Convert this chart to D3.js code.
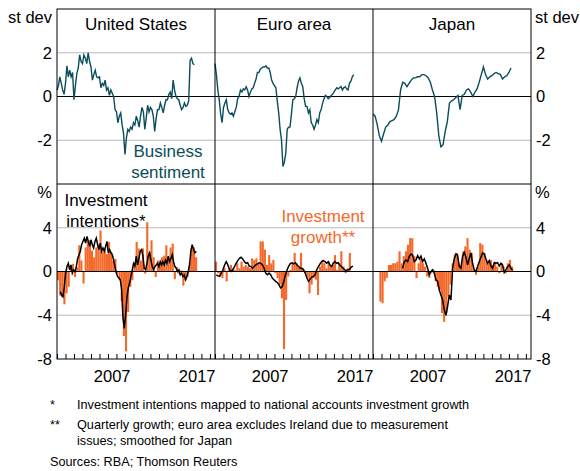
<!DOCTYPE html>
<html>
<head>
<meta charset="utf-8">
<script src="https://cdn.jsdelivr.net/npm/d3@7"></script>
<style>
  body { margin: 0; background: #fff; }
  text { font-family: Arial, "Liberation Sans", sans-serif; fill: #000; }
</style>
</head>
<body>
<svg width="580" height="471"></svg>
<script>
// panels and tick labels
var panelNames = ["United States", "Euro area", "Japan"];
var yearLabels = ["2007", "2017"];
var topTicks = [2, 0, -2];
var bottomTicks = [4, 0, -4, -8];

// business sentiment, st dev (2-monthly for US/euro, quarterly for Japan)
var usSentiment = [0.3, 0.5, 0.9, 0.6, 0.3, 0.1,
  0.6, 1.4, 0.9, 1.2, 0.9, 1.1,
  -0.15, 0.5, 1.05, 1.3, 1.9, 1.6,
  1.5, 1.9, 1.75, 1.5, 2.0, 1.6,
  1.35, 0.75, 1.0, 1.2, 0.9, 0.85,
  0.9, 0.4, 0.6, 0.5, 0.75, 0.3,
  0.4, 0.05, 0.3, 0.15, 0.0, -0.6,
  -0.7, -1.2, -0.9, -0.75, -1.3, -1.7,
  -2.65, -1.9, -1.5, -1.6, -1.4, -1.5,
  -1.2, -1.3, -0.9, -1.1, -1.4, -0.9,
  -0.5, -0.7, -1.5, -1.0, -0.4, -0.7,
  -0.5, -0.6, -0.9, -1.6, -1.0, -0.6,
  -0.6, -0.3, -0.5, -0.75, -0.4, -0.15,
  -0.15, 0.1, 0.2, -0.1, 0.75, 0.3,
  0.0, -0.1, -0.15, -0.4, -0.6, -0.5,
  -0.3, -0.45, -0.4, -0.2, 1.65, 1.75,
  1.5, 1.45];
var euSentiment = [1.5, 1.0, 0.3, -0.15, -0.8, -1.2,
  -0.5, -0.3, -0.15, -0.6, -0.75, -0.8,
  -0.75, -0.9, -0.7, -0.5, -0.1, 0.0,
  0.3, 0.2, 0.35, 0.3, 0.45, 0.3,
  0.0, 0.2, 0.35, 0.4, 0.6, 0.8,
  1.1, 1.1, 1.25, 1.3, 1.35, 1.35,
  1.4, 1.3, 1.3, 1.1, 0.75, 0.6,
  0.5, 0.4, -0.2, -0.75, -1.5, -2.0,
  -3.2, -3.0, -2.6, -1.5, -1.4, -1.4,
  -0.8, -0.15, -0.1, 0.0, 0.4, 0.7,
  0.85, 0.6, 0.45, -0.1, -0.45, -0.45,
  -0.75, -0.6, -1.2, -1.3, -1.5, -1.3,
  -1.05, -1.2, -0.75, -0.6, -0.3, -0.1,
  0.05, 0.0, -0.1, -0.05, 0.05, 0.1,
  0.2, 0.3, 0.4, 0.35, 0.4, 0.45,
  0.3, 0.4, 0.45, 0.35, 0.3, 0.6,
  0.7, 0.9, 1.0];
var jpSentiment = [-0.8, -0.9, -1.3, -1.8,
  -2.05, -1.7, -1.4, -1.3,
  -1.15, -1.1, -1.05, -0.9,
  -0.6, 0.3, 0.65, 0.6,
  0.45, 0.6, 0.75, 0.85,
  0.85, 0.9, 0.9, 1.0,
  1.0, 0.95, 0.85, 0.65,
  0.3, 0.0, -0.75, -1.8,
  -2.3, -2.2, -1.6, -1.15,
  -0.3, -0.2, -0.15, -0.05,
  0.05, -0.6, 0.05, 0.1,
  0.3, 0.35, 0.2, 0.0,
  0.2, 0.35, 0.65, 1.0,
  1.35, 1.0, 0.8, 0.9,
  0.95, 1.05, 1.1, 1.05,
  1.0, 0.8, 0.9, 0.95,
  1.1, 1.3];

// investment growth, quarterly %
var usGrowth = [-0.8, -2.2, -2.35, -3.0,
  -2.0, -1.4, 0.5, 0.7,
  -0.5, 0.4, 2.4, 1.0,
  -1.1, 2.2, 2.85, 2.85,
  1.9, 1.3, 2.2, 2.5,
  3.75, 1.8, 2.1, 1.6,
  2.7, 1.8, 1.0, 1.15,
  -0.2, -0.8, -2.7, -5.9,
  -7.3, -3.7, -1.4, -0.8,
  0.55, 2.7, 2.1, 1.0,
  2.1, -0.2, 4.5, 1.8,
  2.85, 1.3, -0.5, 1.0,
  0.7, 1.3, 1.45, 2.4,
  1.3, 2.2, 2.55, -0.7,
  0.4, -0.2, 0.1, -1.3,
  -0.8, -0.5, 0.85, 2.1,
  2.2, 1.3];
var euGrowth = [0.9, -0.15, -0.3, -0.6,
  0.3, -0.9, 0.15, 0.6,
  0.3, 0.15, 0.75, 0.3,
  0.9, 0.45, 0.6, 0.45,
  0.3, 1.2, 1.05, 1.2,
  0.75, 2.75, 2.75, 2.0,
  0.6, 1.5, 0.75, 1.05,
  -0.15, -0.6, -1.2, -2.45,
  -7.1, -2.6, -0.45, 0.15,
  0.75, 1.7, 0.75, 0.45,
  1.7, 0.3, -0.15, -0.6,
  -2.0, -1.2, -0.6, -0.75,
  -2.15, 0.45, 1.05, 0.75,
  0.3, 0.9, 0.45, 0.6,
  1.5, 0.15, 0.75, 1.85,
  0.45, -0.15, 0.3, 1.7];
var jpGrowth = [-2.75,
  -2.9, -0.9, -0.6, 0.6,
  0.6, 0.75, 0.75, 0.9,
  1.85, 0.75, 1.4, 1.85,
  2.45, 3.05, 3.05, 1.4,
  -0.6, 0.75, 1.2, 0.75,
  0.45, -0.45, -0.6, -0.15,
  0.15, -0.9, -1.4, -1.7,
  -3.8, -4.6, -3.8, -2.3,
  -1.2, 0.75, 1.55, 1.7,
  0.75, 0.6, 1.85, 2.3,
  3.05, 2.0, 1.7, 0.15,
  -0.3, 0.45, 2.6, 2.45,
  1.7, 0.9, 0.75, 1.05,
  0.6, 0.9, 0.45, -0.15,
  0.75, 0.45, -0.15, 0.75,
  1.05, 0.45];

// investment intentions mapped to investment growth, %
var usIntentions = [-1.85, -2.15, -2.3, -1.4, -0.15, 0.45, 0.75, 0.15, 0.6, -0.15,
  0.15, 0.0, 0.45, 1.2, 1.5, 1.85, 2.45, 2.75, 3.05, 2.6,
  3.2, 2.75, 2.3, 2.9, 2.45, 2.15, 2.75, 3.05, 2.45, 2.0,
  2.6, 1.85, 2.15, 1.85, 2.3, 2.75, 1.7, 2.0, 1.7, 1.55,
  1.05, 0.45, -0.15, -0.45, -0.6, -0.75, -1.6, -4.2, -5.2, -4.0,
  -2.4, -1.5, -1.05, -0.45, 0.15, 0.75, 0.5, 1.4, 0.6, 1.2,
  1.85, 2.0, 1.4, 0.3, 0.15, 0.75, 1.4, 1.7, 1.05, 0.45,
  0.15, 0.45, 0.6, 0.75, 0.45, 0.9, 0.6, 0.9, 0.6, 1.05,
  0.75, 1.4, 0.9, 1.2, 1.55, 0.9, 0.45, 0.3, 0.0, 0.15,
  -0.3, -0.15, -0.45, -0.3, -0.75, -0.45, 0.0, 0.6, 1.9, 2.45,
  2.0, 1.7, 1.85];
var euIntentions = [-0.3, -0.4, -0.45, -0.15, 0.15, 0.6, 0.9, 0.6, 0.15, 0.0,
  0.15, 0.45, 0.75, 1.0, 1.2, 1.3, 1.15, 0.9, 0.75, 0.8,
  0.5, 0.45, 0.3, 0.45, 0.6, 0.7, 0.8, 0.75, 0.6, 0.3,
  -0.15, -0.3, -0.15, -0.3, -0.6, -0.75, -0.9, -1.0, -1.2, -1.5,
  -1.4, -0.9, -0.3, 0.15, 0.5, 0.75, 0.8, 0.7, 0.8, 0.6,
  0.45, 0.3, 0.3, 0.15, -0.15, -0.6, -0.9, -0.7, -0.5, -0.45,
  -0.3, 0.15, 0.45, 0.7, 0.9, 1.0, 0.9, 0.75, 0.9, 0.6,
  0.45, 0.75, 0.9, 0.75, 0.8, 0.6, 0.45, 0.3, 0.15, 0.1,
  0.15, 0.2, 0.4, 0.5];
var jpIntentions = [0.3, 0.9, 1.05, 0.9, 1.4, 1.6, 1.5, 0.9, 1.05, 1.45,
  1.15, 1.4, 0.9, 1.15, 0.75, 0.3, -0.3, 0.0, 0.15, -0.15,
  -0.75, -0.9, -1.7, -2.15, -2.6, -3.5, -4.0, -3.2, -2.15, -2.6,
  0.3, 1.15, 1.6, 1.5, 0.45, 0.3, 1.4, 1.75, 1.3, 0.6,
  1.2, 1.7, 0.75, 0.15, 0.0, 0.45, 0.9, 1.3, 1.7, 1.6,
  1.15, 0.75, 1.0, 0.5, 0.3, 0.8, 0.75, 0.8, 0.5, 0.75,
  0.6, -0.1, 0.15, 0.45, 0.6, 0.3, 0.1];

// first and last date of each series (decimal years)
var sentimentSpan = [[2001, 2017.17], [2001, 2017.33], [2001, 2017.25]];
var growthStart = [2001, 2001, 2001.75];
var intentionsSpan = [[2001.39, 2017.39], [2001.16, 2017.24], [2004.49, 2017.43]];

var footnotes = [
  ["*", "Investment intentions mapped to national accounts investment growth"],
  ["**", "Quarterly growth; euro area excludes Ireland due to measurement"],
  ["", "issues; smoothed for Japan"]
];
var sources = "Sources: RBA; Thomson Reuters";

var svg = d3.select("svg"),
    left = 57, right = 531, topY = 9, mid = 184, bottom = 359,
    panelW = (right - left) / 3;

var teal = "#0b4d5b", orange = "#f4692a", grid = "#b9b9b9";

var yTop = d3.scaleLinear().domain([-4, 4]).range([mid, topY]);
var yBot = d3.scaleLinear().domain([-8, 8]).range([bottom, mid]);

var sentiment = [usSentiment, euSentiment, jpSentiment];
var growth = [usGrowth, euGrowth, jpGrowth];
var intentions = [usIntentions, euIntentions, jpIntentions];

function dated(values, span) {
  var step = (span[1] - span[0]) / (values.length - 1);
  return values.map(function(v, i) { return {t: span[0] + i * step, v: v}; });
}

// grid lines
[[yTop, 2], [yTop, -2], [yBot, 4], [yBot, -4]].forEach(function(g) {
  svg.append("line")
    .attr("x1", left).attr("x2", right)
    .attr("y1", g[0](g[1])).attr("y2", g[0](g[1]))
    .style("stroke", grid).style("stroke-width", 1);
});

panelNames.forEach(function(name, p) {
  var x0 = left + p * panelW;
  var x = d3.scaleLinear().domain([2001, 2019.6]).range([x0, x0 + panelW]);

  // bars
  svg.append("g").selectAll("rect")
    .data(growth[p])
    .enter().append("rect")
      .attr("x", function(d, i) { return x(growthStart[p] + i * 0.25); })
      .attr("width", function(d, i) { return x(growthStart[p] + (i + 1) * 0.25) - x(growthStart[p] + i * 0.25); })
      .attr("y", function(d) { return yBot(Math.max(0, d)); })
      .attr("height", function(d) { return Math.abs(yBot(d) - yBot(0)); })
      .style("fill", orange);

  // zero lines
  svg.append("line").attr("x1", x0).attr("x2", x0 + panelW)
    .attr("y1", yTop(0)).attr("y2", yTop(0)).style("stroke", "#000");
  svg.append("line").attr("x1", x0).attr("x2", x0 + panelW)
    .attr("y1", yBot(0)).attr("y2", yBot(0)).style("stroke", "#000");

  svg.append("path")
    .datum(dated(intentions[p], intentionsSpan[p]))
    .attr("d", d3.line().x(function(d) { return x(d.t); }).y(function(d) { return yBot(d.v); }))
    .style("fill", "none").style("stroke", "#000").style("stroke-width", 1.5);

  svg.append("path")
    .datum(dated(sentiment[p], sentimentSpan[p]))
    .attr("d", d3.line().x(function(d) { return x(d.t); }).y(function(d) { return yTop(d.v); }))
    .style("fill", "none").style("stroke", teal).style("stroke-width", 1.4);

  // year ticks along the bottom
  var ax = svg.append("g")
    .attr("transform", "translate(0," + bottom + ")")
    .call(d3.axisTop(x).tickValues(d3.range(2001, 2020)).tickSize(5).tickFormat(""));
  ax.select(".domain").remove();
  ax.selectAll("line").style("stroke", "#000");

  yearLabels.forEach(function(lab) {
    svg.append("text")
      .attr("x", x(+lab + 0.5)).attr("y", 382)
      .attr("text-anchor", "middle")
      .style("font-size", "16.5px")
      .text(lab);
  });

  svg.append("text")
    .attr("x", x0 + panelW / 2).attr("y", 30)
    .attr("text-anchor", "middle")
    .style("font-size", "17px")
    .text(name);
});

// frame
svg.append("rect")
  .attr("x", left).attr("y", topY)
  .attr("width", right - left).attr("height", bottom - topY)
  .style("fill", "none").style("stroke", "#000");
svg.append("line").attr("x1", left).attr("x2", right)
  .attr("y1", mid).attr("y2", mid).style("stroke", "#000");
[1, 2].forEach(function(p) {
  svg.append("line")
    .attr("x1", left + p * panelW).attr("x2", left + p * panelW)
    .attr("y1", topY).attr("y2", bottom).style("stroke", "#000");
});

// y axes, both sides (plain hyphen for negatives)
function yAxis(axis, scale, ticks, xPos) {
  var g = svg.append("g")
    .attr("transform", "translate(" + xPos + ",0)")
    .call(axis(scale).tickValues(ticks).tickSize(0).tickPadding(5)
      .tickFormat(function(d) { return String(d); }));
  g.select(".domain").remove();
  g.selectAll("text").style("font-size", "16.5px").style("font-family", "Arial, 'Liberation Sans', sans-serif");
}
yAxis(d3.axisLeft, yTop, topTicks, left);
yAxis(d3.axisLeft, yBot, bottomTicks, left);
yAxis(d3.axisRight, yTop, topTicks, right);
yAxis(d3.axisRight, yBot, bottomTicks, right);

// units
svg.append("text").attr("x", 52).attr("y", 23).attr("text-anchor", "end").style("font-size", "16.5px").text("st dev");
svg.append("text").attr("x", 535).attr("y", 23).style("font-size", "16.5px").text("st dev");
svg.append("text").attr("x", 52).attr("y", 198).attr("text-anchor", "end").style("font-size", "16.5px").text("%");
svg.append("text").attr("x", 535).attr("y", 198).style("font-size", "16.5px").text("%");

// series labels
function label(lines, cx, y0, color) {
  lines.forEach(function(s, i) {
    svg.append("text")
      .attr("x", cx).attr("y", y0 + i * 21)
      .attr("text-anchor", "middle")
      .style("font-size", "17px")
      .style("fill", color)
      .text(s);
  });
}
label(["Business", "sentiment"], 168, 157, teal);
label(["Investment", "intentions*"], 106, 206, "#000");
label(["Investment", "growth**"], 323, 222, orange);

// notes
footnotes.forEach(function(f, i) {
  var y = [409, 429, 445][i];
  svg.append("text").attr("x", 50).attr("y", y).style("font-size", "12.7px").text(f[0]);
  svg.append("text").attr("x", 77).attr("y", y).style("font-size", "12.7px").text(f[1]);
});
svg.append("text").attr("x", 50).attr("y", 466).style("font-size", "12.7px").text(sources);
</script>
</body>
</html>
